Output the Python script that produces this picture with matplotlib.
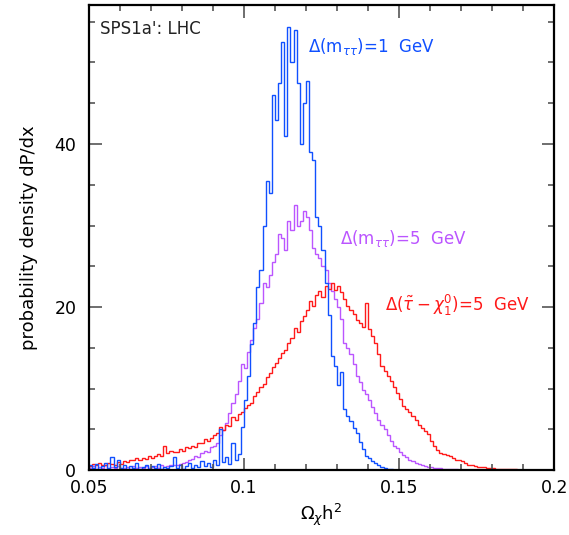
import numpy as np
import matplotlib
matplotlib.use("Agg")
import matplotlib.pyplot as plt

# binned probability densities, bin width 0.001 starting at 0.05
bin_start = 0.05
bin_width = 0.001
n_bins = 150

# Delta(m_tautau) = 1 GeV
blue_vals = [0.6, 0.3, 0.8, 0.2, 0.5, 0.9, 0.3, 1.6, 0.4, 1.2,
             0.3, 0.6, 0.2, 0.5, 0.3, 0.9, 0.2, 0.4, 0.6, 0.2,
             0.5, 0.3, 0.8, 0.2, 0.4, 0.3, 0.5, 1.6, 0.3, 0.6,
             0.2, 0.5, 0.9, 0.3, 0.7, 0.4, 1.1, 0.5, 0.9, 0.4,
             1.3, 0.6, 5.1, 1.0, 1.6, 0.8, 3.3, 1.2, 2.0, 5.3,
             8.6, 11.5, 15.5, 18.0, 22.5, 24.5, 30.0, 35.5, 34.0, 46.0,
             43.0, 47.5, 52.5, 41.0, 54.3, 50.0, 54.0, 47.5, 40.0, 45.0,
             47.7, 39.0, 38.0, 31.0, 30.0, 27.0, 23.0, 19.0, 14.0, 12.8,
             10.5, 12.0, 7.5, 6.6, 6.0, 5.2, 4.6, 3.5, 2.6, 1.8,
             1.5, 1.1, 0.9, 0.7, 0.4, 0.3, 0.2, 0.1]

# Delta(m_tautau) = 5 GeV
purple_vals = [0.3, 0.5, 0.2, 0.4, 0.3, 0.6, 0.2, 0.4, 0.3, 0.5,
               0.2, 0.3, 0.4, 0.2, 0.5, 0.3, 0.4, 0.3, 0.5, 0.3,
               0.4, 0.5, 0.3, 0.6, 0.4, 0.5, 0.7, 0.6, 0.6, 0.8,
               0.9, 1.0, 1.3, 1.4, 1.8, 1.6, 2.1, 2.4, 2.3, 2.8,
               3.0, 3.4, 4.3, 4.9, 5.8, 7.0, 8.2, 9.4, 11.0, 13.0,
               12.5, 14.5, 16.0, 17.5, 18.5, 20.5, 23.0, 22.5, 24.0, 25.5,
               26.5, 29.0, 28.5, 27.0, 30.5, 29.5, 32.5, 30.0, 30.5, 31.8,
               31.0, 29.4, 27.3, 26.5, 26.0, 25.0, 24.5, 23.0, 22.0, 21.0,
               20.0, 18.5, 15.6, 15.0, 14.2, 13.0, 11.5, 10.8, 9.9, 9.3,
               8.6, 7.8, 7.0, 6.2, 5.6, 5.0, 4.3, 3.6, 3.0, 2.7,
               2.3, 1.9, 1.6, 1.3, 1.1, 0.9, 0.8, 0.7, 0.5, 0.45,
               0.4, 0.3, 0.3, 0.25, 0.2, 0.2, 0.15, 0.1, 0.1, 0.05,
               0.05]

# Delta(stau - chi_1^0) = 5 GeV
red_vals = [0.5, 0.8, 0.6, 0.9, 0.7, 0.6, 0.9, 0.8, 0.7, 1.0,
            0.8, 1.1, 1.0, 1.3, 1.2, 1.5, 1.3, 1.5, 1.4, 1.7,
            1.5, 1.8, 2.0, 1.8, 3.0, 2.1, 2.4, 2.2, 2.3, 2.6,
            2.4, 2.8, 2.7, 3.0, 2.9, 3.4, 3.3, 3.8, 3.6, 4.0,
            4.3, 4.6, 5.3, 4.9, 5.6, 5.4, 6.5, 6.2, 6.9, 7.2,
            7.6, 8.0, 8.3, 9.1, 9.6, 10.2, 10.6, 11.4, 11.9, 12.6,
            13.1, 13.8, 14.4, 14.7, 15.6, 16.2, 17.4, 17.0, 18.3, 18.9,
            19.6, 20.8, 20.2, 21.5, 22.0, 21.3, 22.6, 22.2, 23.0, 22.1,
            22.6, 21.8, 21.0, 20.2, 19.6, 19.2, 18.4, 18.0, 17.6, 20.5,
            17.3, 16.5, 15.6, 14.3, 12.8, 12.2, 11.5, 10.9, 10.2, 9.5,
            8.7, 7.9, 7.5, 7.1, 6.6, 6.2, 5.6, 5.2, 4.8, 4.4,
            3.6, 3.0, 2.5, 2.1, 2.0, 1.9, 1.7, 1.5, 1.3, 1.2,
            1.1, 0.9, 0.7, 0.6, 0.5, 0.45, 0.4, 0.35, 0.3, 0.25,
            0.25, 0.2, 0.2, 0.15, 0.15, 0.1, 0.1, 0.1, 0.05, 0.05]

series = [
    (purple_vals, "#bb55ff"),
    (red_vals, "#ff1a1a"),
    (blue_vals, "#1050ff"),
]

edges = bin_start + bin_width * np.arange(n_bins + 1)


def pad(vals):
    out = np.zeros(n_bins)
    out[:len(vals)] = vals
    return out


fig = plt.figure(figsize=(5.69, 5.35), dpi=100)
ax = fig.add_axes([0.156, 0.121, 0.818, 0.869])

for vals, col in series:
    ax.stairs(pad(vals), edges, color=col, linewidth=1.0)

ax.set_xlim(0.05, 0.2)
ax.set_ylim(0, 57)
ax.set_xticks([0.05, 0.1, 0.15, 0.2])
ax.set_xticklabels(["0.05", "0.1", "0.15", "0.2"])
ax.set_xticks(np.arange(0.05, 0.2001, 0.01), minor=True)
ax.set_yticks([0, 20, 40])
ax.set_yticks(np.arange(0, 57, 5), minor=True)

ax.tick_params(which="both", direction="in", top=True, right=True,
               color="#555555", width=1.2, labelsize=12.5)
ax.tick_params(which="major", length=9)
ax.tick_params(which="minor", length=4.5)
ax.tick_params(axis="x", pad=6)
ax.tick_params(axis="y", pad=9)
for sp in ax.spines.values():
    sp.set_linewidth(1.6)

ax.set_xlabel(r"$\Omega_\chi$h$^2$", fontsize=13, labelpad=4)
ax.set_ylabel("probability density dP/dx", fontsize=13, labelpad=12)

ax.text(0.0535, 54.1, "SPS1a': LHC", fontsize=12, va="center", color="#222222")
ax.text(0.1206, 51.9, r"$\Delta$(m$_{\tau\tau}$)=1  GeV", fontsize=12,
        va="center", color="#1050ff")
ax.text(0.131, 28.4, r"$\Delta$(m$_{\tau\tau}$)=5  GeV", fontsize=12,
        va="center", color="#bb55ff")
ax.text(0.1455, 20.2, r"$\Delta(\tilde{\tau}-\chi^0_1)$=5  GeV", fontsize=12,
        va="center", color="#ff1a1a")

fig.savefig("out.png", dpi=100)
